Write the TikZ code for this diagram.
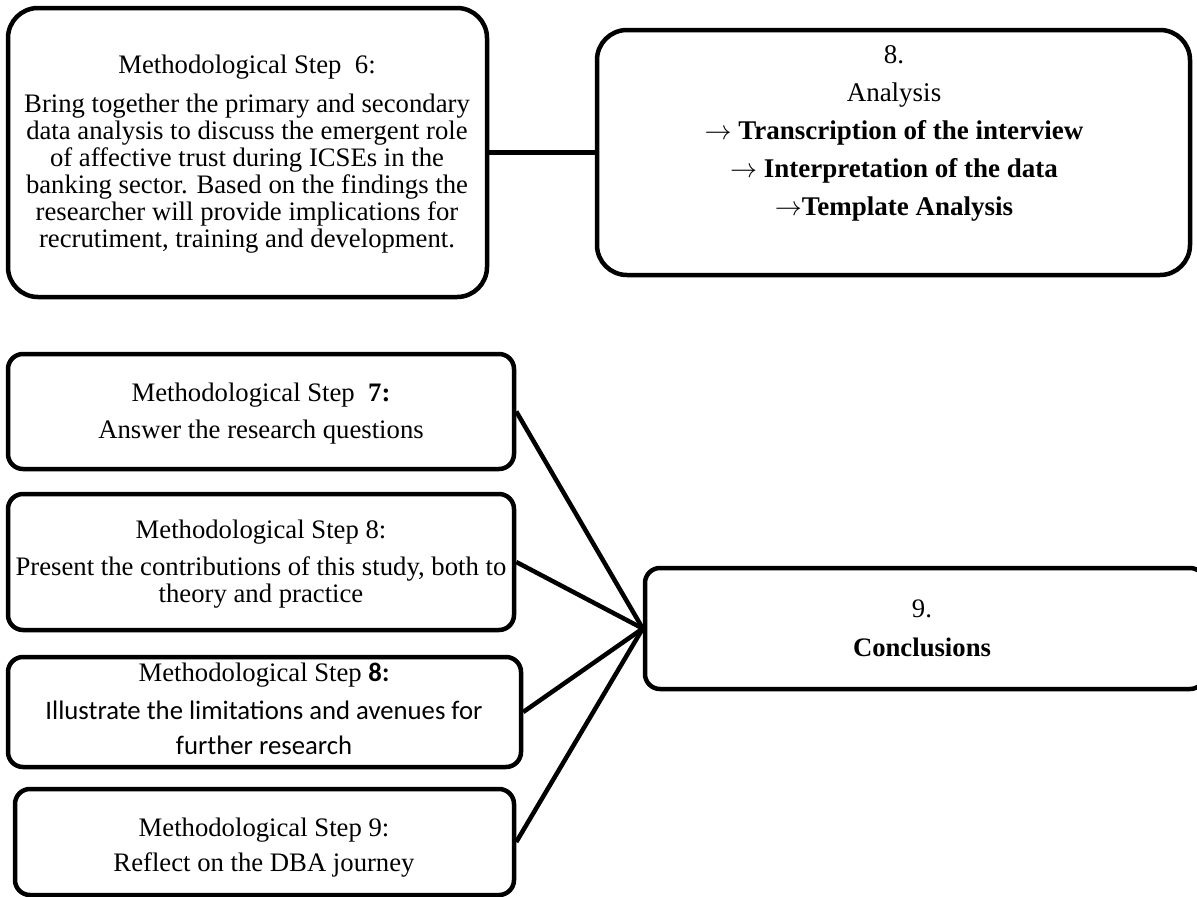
\documentclass[tikz,border=0pt]{standalone}
\usepackage{fix-cm}
\usepackage{fontspec}
\setmainfont{Liberation Serif}
\newfontfamily\calibri{Carlito}
\usetikzlibrary{fit}

\newcommand{\stepto}{$\rightarrow$}

\tikzset{
  box/.style={draw=black, line width=4.5pt, rounded corners=#1, inner sep=0pt, fill=white},
  box/.default=15pt,
  link/.style={draw=black, line width=4.5pt},
  txt/.style={inner sep=0pt, align=center, anchor=north,
              font=\fontsize{26.7}{27}\selectfont},
  bigtxt/.style={txt, font=\fontsize{27}{27}\selectfont},
  sanstxt/.style={txt, font=\calibri\fontsize{26.7}{35}\selectfont},
}

\begin{document}
\begin{tikzpicture}[x=1pt, y=-1pt]
  \useasboundingbox (0,0) rectangle (1197,897);
  \clip (0,0) rectangle (1197,897);

  % boxes
  \node[box=30pt, fit={(8,8) (487,297)}]     (s6)   {};
  \node[box=30pt, fit={(597,30) (1190,275)}] (ana)  {};
  \node[box, fit={(8,354) (514,469)}]        (s7)   {};
  \node[box, fit={(8,494) (514,630)}]        (s8a)  {};
  \node[box, fit={(8,657) (521,767)}]        (s8b)  {};
  \node[box, fit={(15,789) (514,895)}]       (s9)   {};
  \node[box, fit={(645,568) (1205,689)}]     (conc) {};

  % connectors
  \draw[link] (s6.east) -- (s6.east -| ana.west);
  \draw[link] (s7.east)  -- (conc.west);
  \draw[link] (s8a.east) -- (conc.west);
  \draw[link] (s8b.east) -- (conc.west);
  \draw[link] (s9.east)  -- (conc.west);

  % step 6
  \node[txt] (s6h) at (247,54.8) {Methodological Step\ \ 6:};
  \node[txt] (s6b) at (247,93.8) {Bring together the primary and secondary\\
    data analysis to discuss the emergent role\\
    of affective trust during ICSEs in the\\
    banking sector. Based on the findings the\\
    researcher will provide implications for\\
    recrutiment, training and development.};

  % analysis
  \node[bigtxt] (anat) at (894,45.7) {8.\\[11pt]
    Analysis\\[11pt]
    \stepto\ \textbf{Transcription of the interview}\\[11pt]
    \stepto\ \textbf{Interpretation of the data}\\[11pt]
    \stepto\textbf{Template Analysis}};

  % step 7
  \node[txt] (s7h) at (261,382.8) {Methodological Step\ \ \textbf{7:}};
  \node[txt] (s7b) at (261,419.8) {Answer the research questions};

  % step 8 (contributions)
  \node[txt] (s8ah) at (261,519.8) {Methodological Step 8:};
  \node[txt] (s8ab) at (261,556.8) {Present the contributions of this study, both to\\
    theory and practice};

  % step 8 (limitations)
  \node[txt] (s8bh) at (264,662.5) {Methodological Step {\calibri\bfseries 8:}};
  \node[sanstxt] (s8bb) at (264,700.3) {Illustrate the limitations and avenues for\\
    further research};

  % step 9
  \node[txt] (s9h) at (264,817.8) {Methodological Step 9:};
  \node[txt] (s9b) at (264,852.8) {Reflect on the DBA journey};

  % conclusions
  \node[txt] (conct) at (922,599.7) {9.\\[12pt] \textbf{Conclusions}};
\end{tikzpicture}
\end{document}
